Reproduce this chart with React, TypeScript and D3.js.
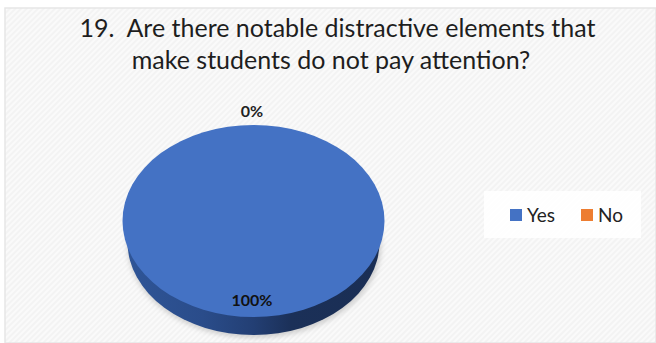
import React from "react";
import * as d3 from "d3";

const categories = ["Yes", "No"];
const values = [100, 0];
const seriesColors = ["#4472c4", "#ed7d31"];
const titleLines = [
  "19.  Are there notable distractive elements that",
  "make students do not pay attention?",
];
const titleCenters = [337.5, 331];

const WIDTH = 656;
const HEIGHT = 343;
const FONT = "Lato, 'Open Sans', sans-serif";

export default function App() {
  const cx = 253.5;
  const cy = 221;
  const rx = 131;
  const ry = 96;
  const yScale = ry / rx;

  const slices = d3.pie<number>().sort(null)(values);
  const arc = d3.arc<d3.PieArcDatum<number>>().innerRadius(0).outerRadius(rx);

  const total = d3.sum(values);
  const pct = (v: number) => `${Math.round((v / total) * 100)}%`;

  return (
    <svg
      width={WIDTH}
      height={HEIGHT}
      viewBox={`0 0 ${WIDTH} ${HEIGHT}`}
      style={{ position: "absolute", left: 0, top: 0, background: "#ffffff" }}
    >
      <defs>
        <pattern id="hatch" width="4" height="4" patternUnits="userSpaceOnUse" patternTransform="rotate(45)">
          <rect width="4" height="4" fill="#fafafa" />
          <rect width="2" height="4" fill="#f3f3f3" />
        </pattern>
        <linearGradient id="wallShade" x1="0" x2="1" y1="0" y2="0">
          <stop offset="0" stopColor="#2f5597" />
          <stop offset="0.3" stopColor="#2a4c8a" />
          <stop offset="0.5" stopColor="#233f74" />
          <stop offset="0.65" stopColor="#1b3058" />
          <stop offset="1" stopColor="#1a2e54" />
        </linearGradient>
        <filter id="softShadow" x="-10%" y="-10%" width="120%" height="125%">
          <feGaussianBlur stdDeviation="2.5" />
        </filter>
      </defs>

      <rect x={5} y={8} width={651} height={335} fill="url(#hatch)" stroke="#e6e6e6" strokeWidth={1.5} />

      {titleLines.map((line, i) => (
        <text
          key={line}
          x={titleCenters[i]}
          y={37 + i * 32}
          textAnchor="middle"
          fontFamily={FONT}
          fontSize={25}
          fill="#1e1e1e"
          style={{ whiteSpace: "pre" }}
        >
          {line}
        </text>
      ))}

      {/* Disc base: a slightly narrower ellipse below the top face gives the tilted look. */}
      <ellipse cx={cx + 1} cy={245} rx={127} ry={93} fill="#a8a8a8" opacity={0.5} filter="url(#softShadow)" />
      <ellipse cx={cx} cy={242} rx={126} ry={93} fill="url(#wallShade)" />

      <g transform={`translate(${cx},${cy}) scale(1,${yScale})`}>
        {slices.map((s, i) => (
          <path key={categories[i]} d={arc(s) ?? ""} fill={seriesColors[i]} />
        ))}
      </g>

      <text x={252} y={117} textAnchor="middle" fontFamily={FONT} fontSize={16} fontWeight={700} fill="#222">
        {pct(values[1])}
      </text>
      <text x={252} y={306} textAnchor="middle" fontFamily={FONT} fontSize={16} fontWeight={700} fill="#111">
        {pct(values[0])}
      </text>

      <rect x={484} y={191} width={157} height={47} fill="#ffffff" opacity={0.85} />
      {categories.map((c, i) => {
        const sx = i === 0 ? 510 : 581;
        return (
          <g key={c}>
            <rect x={sx} y={209} width={12} height={12} fill={seriesColors[i]} />
            <text x={sx + 17} y={221.5} fontFamily={FONT} fontSize={19} fill="#222">
              {c}
            </text>
          </g>
        );
      })}
    </svg>
  );
}
